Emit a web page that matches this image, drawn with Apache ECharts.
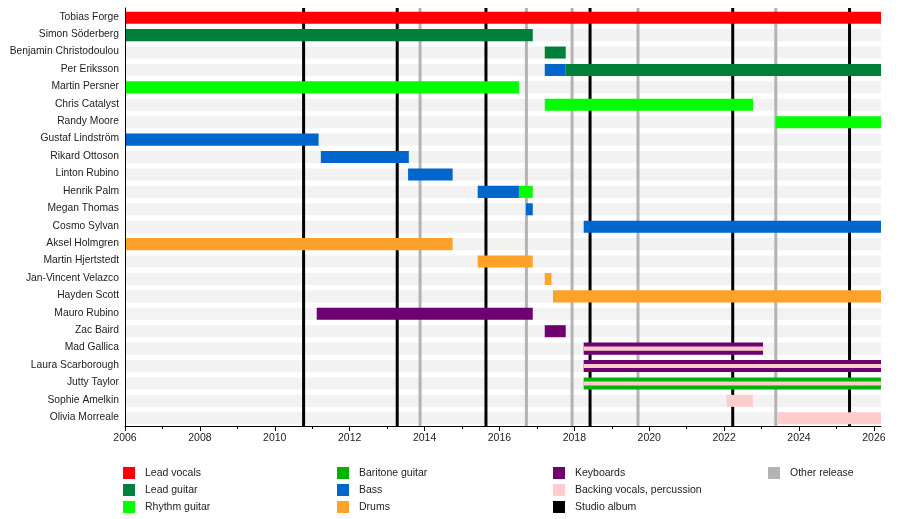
<!DOCTYPE html>
<html>
<head>
<meta charset="utf-8">
<title>Band members</title>
<script src="https://cdn.jsdelivr.net/npm/echarts@6/dist/echarts.min.js"></script>
<style>
	html, body { margin: 0; padding: 0; background: #fff; }
	#main { width: 900px; height: 519px; }
</style>
</head>
<body>
<div id="main"></div>
<script>
var members = ['Tobias Forge', 'Simon Söderberg', 'Benjamin Christodoulou', 'Per Eriksson', 'Martin Persner',
	'Chris Catalyst', 'Randy Moore', 'Gustaf Lindström', 'Rikard Ottoson', 'Linton Rubino', 'Henrik Palm',
	'Megan Thomas', 'Cosmo Sylvan', 'Aksel Holmgren', 'Martin Hjertstedt', 'Jan-Vincent Velazco', 'Hayden Scott',
	'Mauro Rubino', 'Zac Baird', 'Mad Gallica', 'Laura Scarborough', 'Jutty Taylor', 'Sophie Amelkin', 'Olivia Morreale'];

var START = 2006;
var NOW = 2026.19;

// [member, from, to]
var leadVocals = [['Tobias Forge', 2006, NOW]];
var leadGuitar = [['Simon Söderberg', 2006, 2016.89], ['Benjamin Christodoulou', 2017.21, 2017.77], ['Per Eriksson', 2017.77, NOW]];
var rhythmGuitar = [['Martin Persner', 2006, 2016.52], ['Henrik Palm', 2016.52, 2016.89], ['Chris Catalyst', 2017.21, 2022.77], ['Randy Moore', 2023.38, NOW]];
var baritoneGuitar = [['Jutty Taylor', 2018.25, NOW]];
var bass = [['Gustaf Lindström', 2006, 2011.17], ['Rikard Ottoson', 2011.23, 2013.58], ['Linton Rubino', 2013.56, 2014.75],
	['Henrik Palm', 2015.42, 2016.52], ['Megan Thomas', 2016.71, 2016.89], ['Per Eriksson', 2017.21, 2017.77], ['Cosmo Sylvan', 2018.25, NOW]];
var drums = [['Aksel Holmgren', 2006, 2014.75], ['Martin Hjertstedt', 2015.42, 2016.89], ['Jan-Vincent Velazco', 2017.21, 2017.39], ['Hayden Scott', 2017.43, NOW]];
var keyboards = [['Mauro Rubino', 2011.12, 2016.89], ['Zac Baird', 2017.21, 2017.77], ['Mad Gallica', 2018.25, 2023.04], ['Laura Scarborough', 2018.25, NOW]];
var backingVocals = [['Sophie Amelkin', 2022.07, 2022.77], ['Olivia Morreale', 2023.44, NOW]];
// second role, drawn as a thin stripe in the middle of the main bar
var backingVocalsSecondary = [['Mad Gallica', 2018.25, 2023.04], ['Laura Scarborough', 2018.25, NOW], ['Jutty Taylor', 2018.25, NOW]];

var studioAlbums = [2010.77, 2013.27, 2015.64, 2018.42, 2022.23, 2025.35];
var otherReleases = [2013.88, 2016.72, 2017.94, 2019.7, 2023.38];

var majorTicks = [2006, 2008, 2010, 2012, 2014, 2016, 2018, 2020, 2022, 2024, 2026];
var minorTicks = [2007, 2009, 2011, 2013, 2015, 2017, 2019, 2021, 2023, 2025];

var FONT = 'Liberation Sans, Arial, sans-serif';

function toRows(list, stripe) {
	return list.map(function (item) {
		return [members.indexOf(item[0]), item[1], item[2], stripe ? 1 : 0];
	});
}

function renderSpan(params, api) {
	var row = api.value(0);
	var p1 = api.coord([api.value(1), row]);
	var p2 = api.coord([api.value(2), row]);
	var h = api.size([0, 1])[1] * 0.69;
	var y = p1[1] - h / 2 + 1;
	if (api.value(3) === 1) {
		y = y + h / 3;
		h = h / 3;
	}
	return {
		type: 'rect',
		shape: { x: p1[0], y: y, width: p2[0] - p1[0], height: h },
		style: { fill: api.visual('color') }
	};
}

function renderBand(params, api) {
	var cs = params.coordSys;
	var p = api.coord([START, api.value(0)]);
	var h = api.size([0, 1])[1] * 0.69;
	return {
		type: 'rect',
		shape: { x: cs.x, y: p[1] - h / 2 + 1, width: cs.width, height: h },
		style: { fill: '#f2f2f2' }
	};
}

function renderRelease(params, api) {
	var cs = params.coordSys;
	var p = api.coord([api.value(0), 0]);
	return {
		type: 'line',
		shape: { x1: p[0], y1: cs.y, x2: p[0], y2: cs.y + cs.height },
		style: { stroke: api.visual('color'), lineWidth: 3 }
	};
}

function spanSeries(name, color, list, extra) {
	var data = toRows(list, false);
	if (extra) {
		data = data.concat(toRows(extra, true));
	}
	return {
		name: name,
		type: 'custom',
		renderItem: renderSpan,
		itemStyle: { color: color },
		encode: { x: [1, 2], y: 0 },
		data: data,
		z: 5,
		silent: true
	};
}

function releaseSeries(name, color, list) {
	return {
		name: name,
		type: 'custom',
		renderItem: renderRelease,
		itemStyle: { color: color },
		encode: { x: 0 },
		data: list.map(function (v) { return [v]; }),
		z: 3,
		silent: true
	};
}

function legendCol(left, names) {
	return {
		orient: 'vertical',
		left: left,
		top: 467,
		padding: 0,
		icon: 'rect',
		itemWidth: 12,
		itemHeight: 12,
		itemGap: 5,
		selectedMode: false,
		textStyle: { fontFamily: FONT, fontSize: 10.5, color: '#222', padding: [0, 0, 0, 5] },
		data: names
	};
}

var chart = echarts.init(document.getElementById('main'));

var option = {
	animation: false,
	backgroundColor: '#fff',
	grid: { left: 125, right: 19, top: 8, bottom: 93 },
	legend: [
		legendCol(123, ['Lead vocals', 'Lead guitar', 'Rhythm guitar']),
		legendCol(337, ['Baritone guitar', 'Bass', 'Drums']),
		legendCol(553, ['Keyboards', 'Backing vocals, percussion', 'Studio album']),
		legendCol(768, ['Other release'])
	],
	xAxis: [{
		type: 'value',
		min: START,
		max: NOW,
		z: 8,
		splitLine: { show: false },
		axisLine: { show: true, lineStyle: { color: '#000', width: 1 } },
		axisTick: { show: true, customValues: majorTicks, length: 5, lineStyle: { color: '#000' } },
		axisLabel: {
			customValues: majorTicks,
			fontFamily: FONT, fontSize: 10.5, color: '#222', margin: 7,
			formatter: function (v) { return String(v); }
		}
	}, {
		type: 'value',
		min: START,
		max: NOW,
		position: 'bottom',
		z: 8,
		splitLine: { show: false },
		axisLine: { show: false },
		axisTick: { show: true, customValues: minorTicks, length: 3, lineStyle: { color: '#000' } },
		axisLabel: { show: false }
	}],
	yAxis: {
		type: 'category',
		data: members,
		inverse: true,
		z: 8,
		axisLine: { show: true, lineStyle: { color: '#000' } },
		axisTick: { show: false },
		splitLine: { show: false },
		axisLabel: { fontFamily: FONT, fontSize: 10.3, color: '#222', margin: 6 }
	},
	series: [
		{
			type: 'custom',
			renderItem: renderBand,
			encode: { y: 0 },
			data: members.map(function (m, i) { return [i]; }),
			z: 1,
			silent: true
		},
		releaseSeries('Studio album', '#000000', studioAlbums),
		releaseSeries('Other release', '#b3b3b3', otherReleases),
		spanSeries('Lead vocals', '#ff0000', leadVocals),
		spanSeries('Lead guitar', '#007f3a', leadGuitar),
		spanSeries('Rhythm guitar', '#00ff00', rhythmGuitar),
		spanSeries('Baritone guitar', '#00b300', baritoneGuitar),
		spanSeries('Bass', '#0066cc', bass),
		spanSeries('Drums', '#ffa22a', drums),
		spanSeries('Keyboards', '#6e0070', keyboards),
		spanSeries('Backing vocals, percussion', '#ffcccc', backingVocals, backingVocalsSecondary)
	]
};

chart.setOption(option);
</script>
</body>
</html>
